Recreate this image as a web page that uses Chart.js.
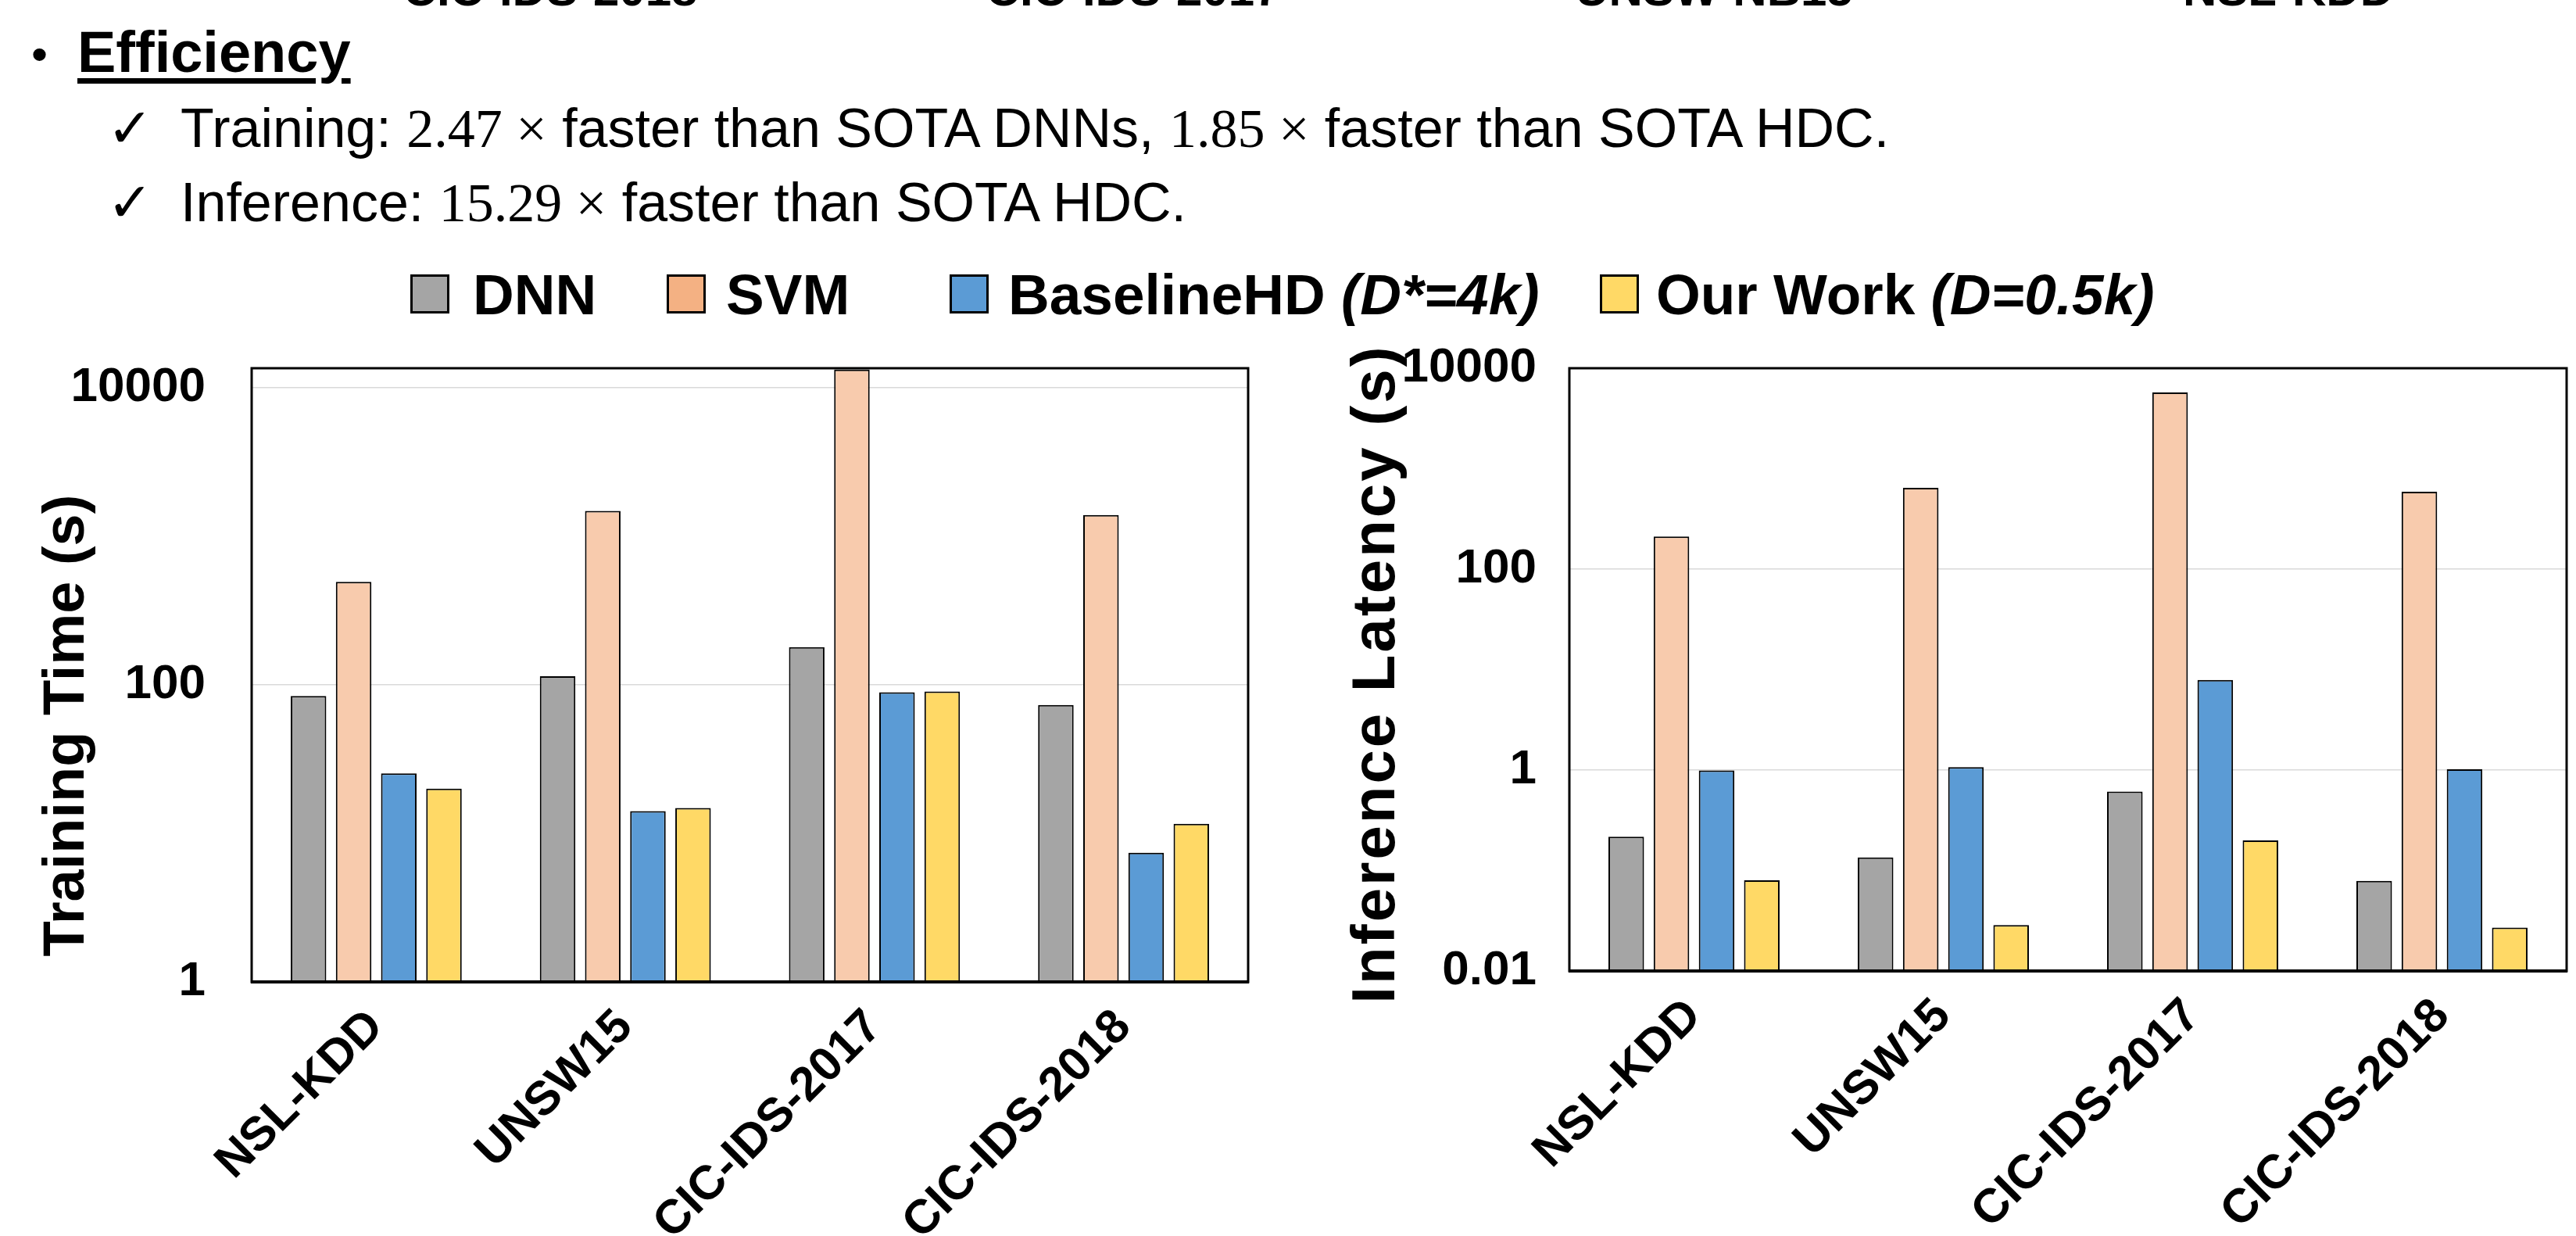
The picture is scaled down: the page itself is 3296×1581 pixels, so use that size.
<!DOCTYPE html>
<html>
<head>
<meta charset="utf-8">
<script src="https://cdn.jsdelivr.net/npm/chart.js@4.4.0/dist/chart.umd.min.js"></script>
<style>
body { margin: 0; width: 3296px; height: 1581px; overflow: hidden; background: #fff; position: relative;
       font-family: "Liberation Sans", Arial, sans-serif; color: #000; }
.t { position: absolute; white-space: nowrap; line-height: 1; }
.b { font-weight: bold; }
.m { font-family: "Liberation Serif", "Times New Roman", serif; }
.top { font-size: 60px; font-weight: bold; top: -43px; transform: translateX(-50%); }
.box { position: absolute; width: 50px; height: 50px; top: 351px; border: 3px solid #000; box-sizing: border-box; }
.leg { font-size: 73px; font-weight: bold; top: 340px; }
.ytitle { font-weight: bold; transform: translate(-50%, -50%) rotate(-90deg); }
.chk { font-size: 70px; font-family: "DejaVu Sans", sans-serif; }
canvas { position: absolute; top: 440px; }
</style>
</head>
<body>
<!-- cut-off labels from the slide above -->
<div class="t top" style="left:704px">CIC-IDS-2018</div>
<div class="t top" style="left:1450px">CIC-IDS-2017</div>
<div class="t top" style="left:2193px">UNSW-NB15</div>
<div class="t top" style="left:2928px">NSL-KDD</div>

<div class="t" style="left:40px;top:40px;font-size:60px">•</div>
<div class="t b" style="left:99px;top:30px;font-size:74px;text-decoration:underline;text-decoration-thickness:7px;text-underline-offset:8px">Efficiency</div>
<div class="t chk" style="left:137px;top:129px">✓</div>
<div class="t" style="left:231px;top:129px;font-size:70px">Training: <span class="m">2.47 ×</span> faster than SOTA DNNs, <span class="m">1.85 ×</span> faster than SOTA HDC.</div>
<div class="t chk" style="left:137px;top:224px">✓</div>
<div class="t" style="left:231px;top:224px;font-size:70px">Inference: <span class="m">15.29 ×</span> faster than SOTA HDC.</div>

<div id="legend"></div>

<div class="t ytitle" style="left:82px;top:928px;font-size:74px">Training Time (s)</div>
<div class="t ytitle" style="left:1757px;top:862px;font-size:78px;letter-spacing:3px">Inference Latency (s)</div>

<canvas id="trainChart" width="1640" height="1141" style="left:0"></canvas>
<canvas id="inferChart" width="1656" height="1141" style="left:1640px"></canvas>

<script>
const categories = ['NSL-KDD', 'UNSW15', 'CIC-IDS-2017', 'CIC-IDS-2018'];
const seriesNames = ['DNN', 'SVM', 'BaselineHD', 'Our Work'];
const seriesNotes = ['', '', '(D*=4k)', '(D=0.5k)'];

// training time (s)
const trainDNN = [84, 114, 179, 73];
const trainSVM = [492, 1480, 13200, 1390];
const trainBaselineHD = [25.3, 14.1, 89, 7.4];
const trainOurWork = [20.0, 14.8, 90, 11.6];

// inference latency (s)
const inferDNN = [0.217, 0.135, 0.61, 0.079];
const inferSVM = [211, 645, 5750, 590];
const inferBaselineHD = [0.99, 1.07, 7.9, 1.02];
const inferOurWork = [0.080, 0.0286, 0.199, 0.027];

const trainTicks = [1, 100, 10000];
const inferTicks = [0.01, 1, 100, 10000];

const barColors = ['#a5a5a5', '#f8cbad', '#5b9bd5', '#ffd966'];
const legendColors = ['#a5a5a5', '#f4b183', '#5b9bd5', '#ffd966'];

// legend
const boxLeft = [525, 853, 1215, 2047];
const textLeft = [605, 929, 1290, 2119];
let html = '';
seriesNames.forEach((name, i) => {
    html += '<div class="box" style="left:' + boxLeft[i] + 'px;background:' + legendColors[i] + '"></div>';
    html += '<div class="t leg" style="left:' + textLeft[i] + 'px">' + name +
        (seriesNotes[i] ? ' <i>' + seriesNotes[i] + '</i>' : '') + '</div>';
});
document.getElementById('legend').innerHTML = html;

const FONT = '"Liberation Sans", Arial, sans-serif';

const frame = {
    id: 'frame',
    afterDatasetsDraw(chart) {
        const a = chart.chartArea;
        const c = chart.ctx;
        c.save();
        c.strokeStyle = '#000';
        c.lineWidth = 3;
        c.strokeRect(a.left, a.top, a.right - a.left, a.bottom - a.top);
        c.lineWidth = 4;
        c.beginPath();
        c.moveTo(a.left - 1, a.bottom);
        c.lineTo(a.right + 1, a.bottom);
        c.stroke();
        c.restore();
    }
};

function makeChart(id, values, ticks, min, max, yWidth, xHeight, padRight, tickPad) {
    return new Chart(document.getElementById(id), {
        type: 'bar',
        data: {
            labels: categories,
            datasets: values.map((v, i) => ({
                label: seriesNames[i],
                data: v,
                backgroundColor: barColors[i],
                borderColor: '#000',
                borderWidth: 2,
                categoryPercentage: 0.725,
                barPercentage: 0.787
            }))
        },
        options: {
            responsive: false,
            animation: false,
            devicePixelRatio: 1,
            layout: { padding: { left: 0, top: 31, right: padRight, bottom: 0 } },
            plugins: { legend: { display: false }, tooltip: { enabled: false } },
            scales: {
                x: {
                    grid: { display: false },
                    border: { display: false },
                    ticks: {
                        autoSkip: false,
                        maxRotation: 45,
                        minRotation: 45,
                        padding: 14,
                        color: '#000',
                        font: { family: FONT, size: 61, weight: 'bold' }
                    },
                    afterFit(scale) {
                        scale.height = xHeight;
                        scale.paddingLeft = 0;
                        scale.paddingRight = 0;
                    }
                },
                y: {
                    type: 'logarithmic',
                    min: min,
                    max: max,
                    grid: { color: '#d9d9d9', lineWidth: 1.5, drawTicks: false },
                    border: { display: false },
                    ticks: {
                        padding: tickPad,
                        color: '#000',
                        font: { family: FONT, size: 62, weight: 'bold' },
                        callback: (v) => String(v)
                    },
                    afterBuildTicks(scale) { scale.ticks = ticks.map(v => ({ value: v })); },
                    afterFit(scale) {
                        scale.width = yWidth;
                        scale.paddingTop = 0;
                        scale.paddingBottom = 0;
                    }
                }
            }
        },
        plugins: [frame]
    });
}

makeChart('trainChart', [trainDNN, trainSVM, trainBaselineHD, trainOurWork],
    trainTicks, 1, 13500, 322, 325, 43, 59);
makeChart('inferChart', [inferDNN, inferSVM, inferBaselineHD, inferOurWork],
    inferTicks, 0.01, 10000, 368, 339, 12, 42);
</script>
</body>
</html>
